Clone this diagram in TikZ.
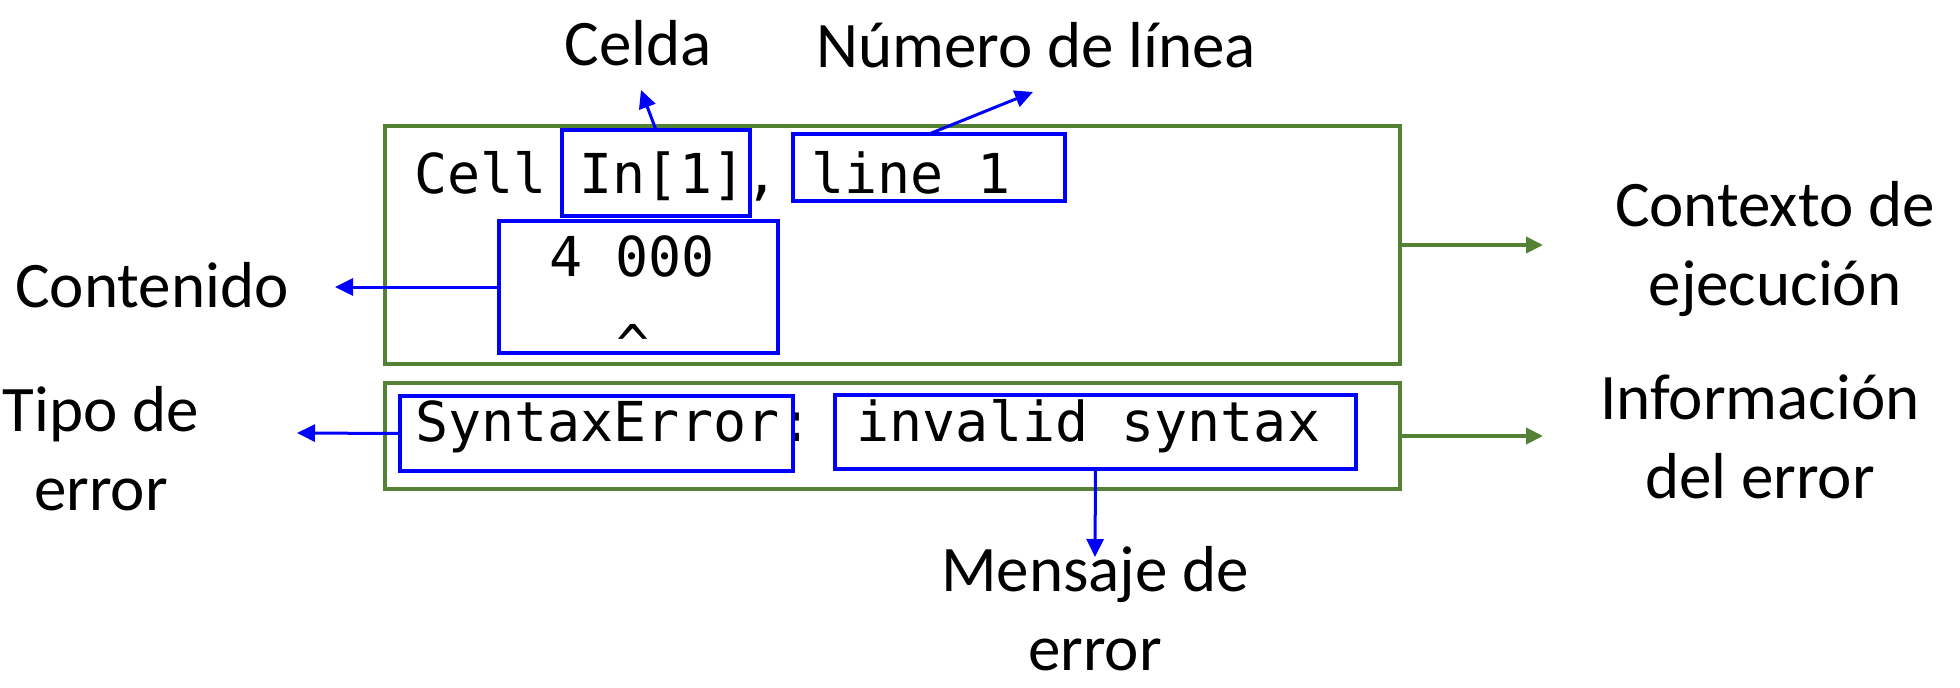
\documentclass[tikz,border=0pt]{standalone}
\usepackage{fontspec}
\setmainfont{Carlito}
\newfontfamily\codefont{DejaVu Sans Mono}
\usetikzlibrary{arrows.meta}
\definecolor{framegreen}{RGB}{84,130,53}
\definecolor{markblue}{RGB}{0,0,255}
\tikzset{
  x=1pt, y=-1pt,
  greenbox/.style={draw=framegreen, line width=4pt, inner sep=0pt, outer sep=0pt, anchor=north west},
  bluebox/.style={draw=markblue, line width=4.5pt, inner sep=0pt, outer sep=0pt, anchor=north west},
  bluearrow/.style={draw=markblue, line width=3pt, -{Triangle[length=18pt,width=17pt]}},
  greenarrow/.style={draw=framegreen, line width=4pt, -{Triangle[length=17pt,width=16pt]}},
  label/.style={font=\fontsize{65}{79}\selectfont, inner sep=0pt, align=center, anchor=base},
  code/.style={font=\codefont\fontsize{55}{66}\selectfont, inner sep=0pt, anchor=base west},
}
\begin{document}
\begin{tikzpicture}
\useasboundingbox (0,0) rectangle (1960,688);
\fill[white] (0,0) rectangle (1960,688);

% outer frames
\node[greenbox, minimum width=1015pt, minimum height=238pt] (ctxbox) at (385,126) {};
\node[greenbox, minimum width=1015pt, minimum height=106pt] (infobox) at (385,383) {};

% code text
\node[code] (cellline) at (414,193) {Cell In[1], line 1};
\node[code] (numline) at (549,276) {4 000};
\node[code, anchor=base] (caret) at (633,364) {\^{}};
\node[code] (errline) at (415,441) {SyntaxError: invalid syntax};

% highlighted parts
\node[bluebox, minimum width=188pt, minimum height=86pt] (cellbox) at (562,130) {};
\node[bluebox, minimum width=272pt, minimum height=67pt] (linebox) at (793,134) {};
\node[bluebox, minimum width=279pt, minimum height=132pt] (contentbox) at (499,221) {};
\node[bluebox, minimum width=393pt, minimum height=75pt] (typebox) at (400,396) {};
\node[bluebox, minimum width=521pt, minimum height=74pt] (msgbox) at (835,395) {};

% labels (multi-line labels are placed by the baseline of their last line)
\node[label] (celda) at (638,65) {Celda};
\node[label] (numero) at (1036,67) {Número de línea};
\node[label] (contenido) at (152,307) {Contenido};
\node[label] (tipo) at (101,510) {Tipo de\\error};
\node[label] (contexto) at (1775,305) {Contexto de\\ejecución};
\node[label] (informacion) at (1760,498) {Información\\del error};
\node[label] (mensaje) at (1095,670) {Mensaje de\\error};

% arrow tips
\coordinate (celdatip) at (641,90);
\coordinate (numerotip) at (1033,92);
\coordinate (contenidotip) at (335,287);
\coordinate (tipotip) at (297,433);
\coordinate (mensajetip) at (1095,557);
\coordinate (contextotip) at (1543,245);
\coordinate (infotip) at (1543,436);

% connectors
\draw[bluearrow] (cellbox.north) -- (celdatip);
\draw[bluearrow] (linebox.north) -- (numerotip);
\draw[bluearrow] (contentbox.west) -- (contenidotip);
\draw[bluearrow] (typebox.west) -- (tipotip);
\draw[bluearrow] (msgbox.south) -- (mensajetip);
\draw[greenarrow] (ctxbox.east) -- (contextotip);
\draw[greenarrow] (infobox.east) -- (infotip);
\end{tikzpicture}
\end{document}
